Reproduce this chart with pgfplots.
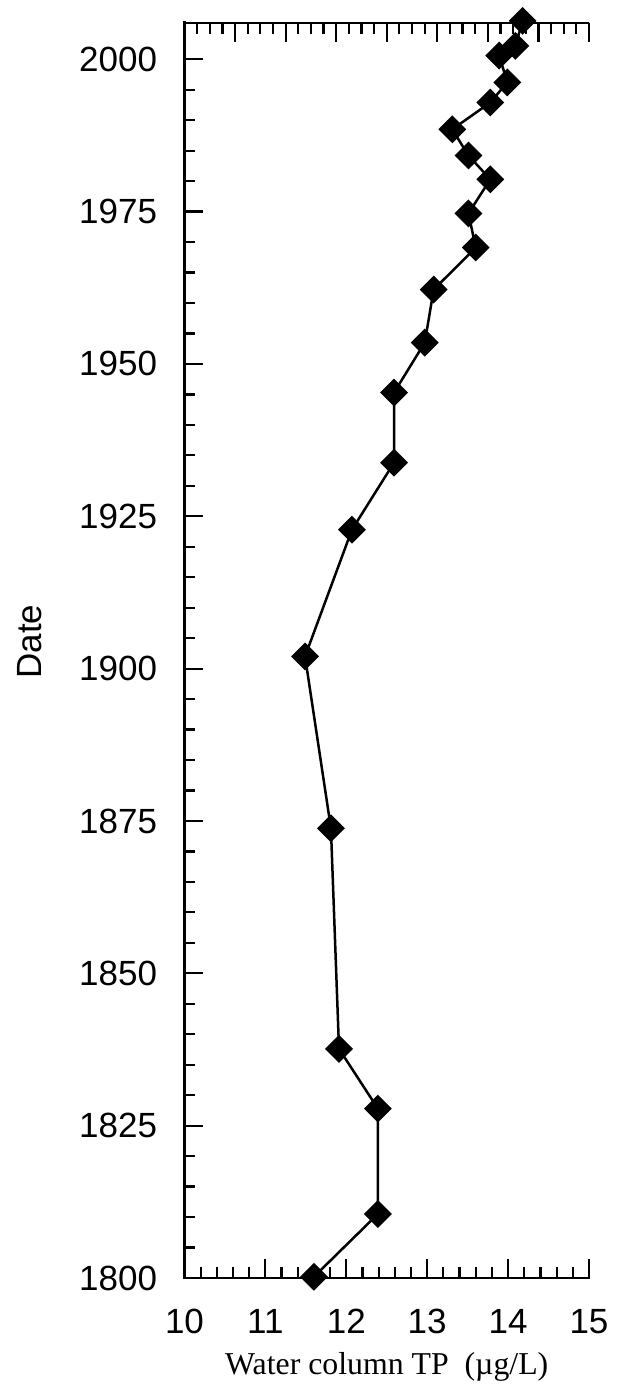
\documentclass[border=0pt]{standalone}
\usepackage{pgfplots}
\pgfplotsset{compat=1.18}
\usepackage{fontspec}
\setmainfont{Liberation Serif}
\newfontfamily\helv{Liberation Sans}
\begin{document}
\begin{tikzpicture}
\useasboundingbox (0,0) rectangle (308pt,693pt);
\begin{axis}[
  at={(92.25pt,54pt)}, anchor=south west,
  scale only axis, width=202.25pt, height=627.65pt,
  xmin=10, xmax=15, ymin=1800, ymax=2006,
  axis line style={draw=none},
  xtick pos=bottom, ytick pos=left,
  xtick={10,...,15}, minor x tick num=4,
  ytick={1800,1825,...,2000}, minor y tick num=4,
  tick align=inside,
  major tick length=9.5pt, minor tick length=5.5pt,
  tick style={black, line width=1.1pt},
  /pgf/number format/assume math mode=true,
  /pgf/number format/1000 sep={},
  ticklabel style={font=\helv\fontsize{17.5}{20}\selectfont, inner sep=0pt},
  xticklabel style={anchor=base, yshift=-27.5pt},
  yticklabel style={anchor=east, xshift=-13.5pt},
  xlabel={Water column TP\ \ (µg/L)},
  xlabel style={at={(axis description cs:0.5,0)}, anchor=base, yshift=-48pt, font=\fontsize{15.9}{18}\selectfont, inner sep=0pt},
  ylabel={Date},
  ylabel style={at={(axis description cs:-0.382,0.507)}, anchor=center, font=\helv\fontsize{17.5}{20}\selectfont, inner sep=0pt},
  clip=false,
]
\draw[line width=1.3pt, line cap=rect] (rel axis cs:0,1) -- (rel axis cs:0,0) -- (rel axis cs:1,0);
\addplot[black, line width=1.25pt, mark=square*, mark size=4.3pt, mark options={rotate=45, solid, fill=black}] coordinates {
(14.18,2006.3)
(14.09,2002.2)
(13.89,2000.6)
(13.99,1996.2)
(13.78,1992.9)
(13.31,1988.5)
(13.51,1984.2)
(13.78,1980.3)
(13.51,1974.7)
(13.60,1969.1)
(13.08,1962.2)
(12.97,1953.5)
(12.59,1945.3)
(12.59,1933.8)
(12.07,1922.8)
(11.49,1902.0)
(11.81,1873.8)
(11.91,1837.6)
(12.39,1827.8)
(12.39,1810.5)
(11.60,1800.2)
};
\end{axis}
\begin{axis}[
  at={(92.25pt,54pt)}, anchor=south west,
  scale only axis, width=202.25pt, height=627.65pt,
  xmin=0, xmax=8, ymin=0, ymax=1,
  axis line style={draw=none},
  xtick pos=top, ytick=\empty,
  xtick={0,...,8}, minor x tick num=3, xticklabels={},
  tick align=inside,
  major tick length=9.5pt, minor tick length=5.5pt,
  tick style={black, line width=1.1pt},
]
\draw[line width=1.3pt, line cap=rect] (rel axis cs:0,1) -- (rel axis cs:1,1);
\end{axis}
\end{tikzpicture}
\end{document}
